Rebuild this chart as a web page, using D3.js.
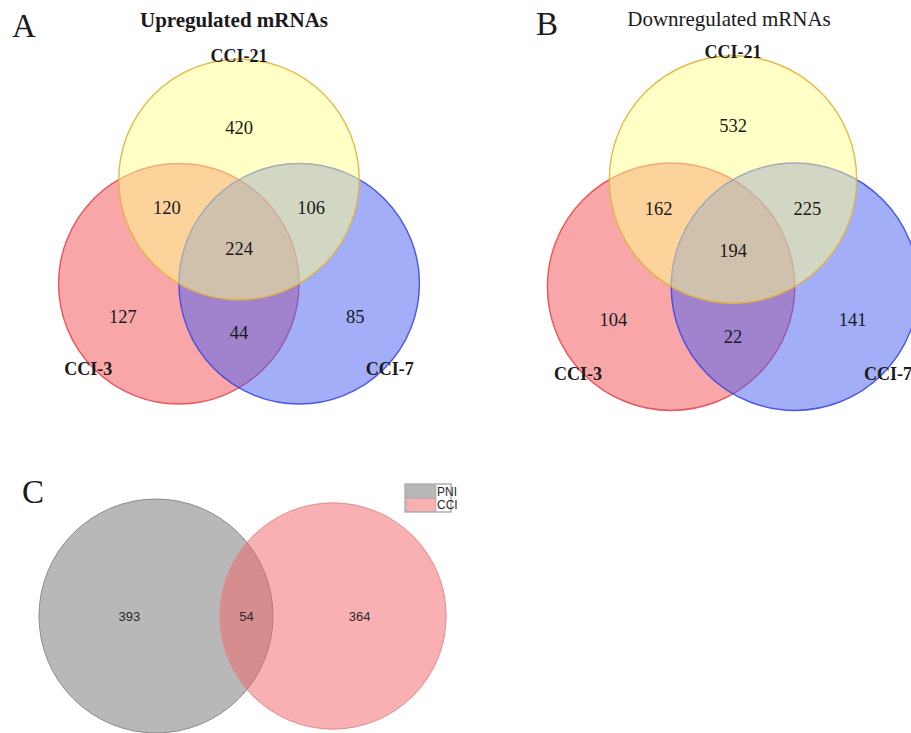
<!DOCTYPE html>
<html>
<head>
<meta charset="utf-8">
<script src="https://cdn.jsdelivr.net/npm/d3@7"></script>
<style>
  body { margin: 0; background: #fff; }
  svg { display: block; }
  .serif { font-family: "Liberation Serif", "Times New Roman", serif; fill: #1a1a1a; }
  .sans { font-family: "Liberation Sans", Arial, sans-serif; fill: #2a2a2a; }
</style>
</head>
<body>
<script>
// Data ----------------------------------------------------------------------------------
var setNames = ["CCI-21", "CCI-3", "CCI-7"];
// region membership (indexes into setNames), same order as the count arrays
var regionSets = [[0], [1], [2], [0, 1], [0, 2], [1, 2], [0, 1, 2]];
var upCounts = [420, 127, 85, 120, 106, 44, 224];
var downCounts = [532, 104, 141, 162, 225, 22, 194];

var pairNames = ["PNI", "CCI"];
var pairOnly = [393, 364];
var pairShared = 54;

// Layout --------------------------------------------------------------------------------
var width = 911, height = 733;
var unitR = 1.73;
var setAngles = [-90, 150, 30];
var setLabelAngles = [-90, 137, 43];
var singleDist = [1.75, 1.93, 1.93];
var pairDist = 1.2;
// draw order red, blue, yellow (yellow lies on top)
var drawOrder = [1, 2, 0];
var setFill = ["#ffff8e", "#f14d51", "#475df1"];
var setStroke = ["#e2b23a", "#e5484c", "#3b48e2"];

var svg = d3.select("body").append("svg")
  .attr("width", width)
  .attr("height", height);

svg.append("rect").attr("width", width).attr("height", height).attr("fill", "#fff");

function rad(a) { return a * Math.PI / 180; }

//Three-set Venn-----------------------------------------------------------------------------
function venn3(g, cx, cy, d, counts) {
  var x = d3.scaleLinear().domain([-1, 1]).range([cx - d, cx + d]);
  var y = d3.scaleLinear().domain([-1, 1]).range([cy - d, cy + d]);
  var r = unitR * d;

  var circles = drawOrder.map(function(i) {
    return { i: i, ux: Math.cos(rad(setAngles[i])), uy: Math.sin(rad(setAngles[i])) };
  });

  g.selectAll("circle.set")
    .data(circles)
    .enter().append("circle")
    .attr("class", "set")
    .attr("cx", function(c) { return x(c.ux); })
    .attr("cy", function(c) { return y(c.uy); })
    .attr("r", r)
    .attr("fill", function(c) { return setFill[c.i]; })
    .attr("fill-opacity", 0.5)
    .attr("stroke", function(c) { return setStroke[c.i]; })
    .attr("stroke-opacity", 0.9)
    .attr("stroke-width", 1.4);

  // region counts
  var regions = regionSets.map(function(s, k) {
    var vx = 0, vy = 0;
    s.forEach(function(i) { vx += Math.cos(rad(setAngles[i])); vy += Math.sin(rad(setAngles[i])); });
    var len = Math.sqrt(vx * vx + vy * vy);
    var dist = s.length == 1 ? singleDist[s[0]] : (s.length == 2 ? pairDist : 0);
    if (len > 0) { vx = vx / len * dist; vy = vy / len * dist; }
    return { ux: vx, uy: vy, n: counts[k] };
  });

  g.selectAll("text.count")
    .data(regions)
    .enter().append("text")
    .attr("class", "count serif")
    .attr("x", function(d) { return x(d.ux); })
    .attr("y", function(d) { return y(d.uy); })
    .attr("dy", "0.35em")
    .attr("text-anchor", "middle")
    .style("font-size", "18.5px")
    .text(function(d) { return d.n; });

  // set names
  g.selectAll("text.setname")
    .data(setNames)
    .enter().append("text")
    .attr("class", "setname serif")
    .attr("x", function(n, i) {
      return x(Math.cos(rad(setAngles[i]))) + r * 1.03 * Math.cos(rad(setLabelAngles[i]));
    })
    .attr("y", function(n, i) {
      return y(Math.sin(rad(setAngles[i]))) + r * 1.03 * Math.sin(rad(setLabelAngles[i]));
    })
    .attr("dy", "0.35em")
    .attr("text-anchor", "middle")
    .style("font-size", "18px")
    .style("font-weight", "bold")
    .text(function(n) { return n; });
}

var gA = svg.append("g");
venn3(gA, 239, 249, 69.5, upCounts);
gA.append("text").attr("class", "serif").attr("x", 234).attr("y", 27)
  .attr("text-anchor", "middle").style("font-size", "21px").style("font-weight", "bold")
  .text("Upregulated mRNAs");
gA.append("text").attr("class", "serif").attr("x", 12).attr("y", 37)
  .style("font-size", "33px").text("A");

var gB = svg.append("g");
venn3(gB, 733, 251, 71.5, downCounts);
gB.append("text").attr("class", "serif").attr("x", 729).attr("y", 26)
  .attr("text-anchor", "middle").style("font-size", "21px")
  .text("Downregulated mRNAs");
gB.append("text").attr("class", "serif").attr("x", 536).attr("y", 35)
  .style("font-size", "33px").text("B");

//Two-set Venn-------------------------------------------------------------------------------
var gC = svg.append("g");
var totals = [pairOnly[0] + pairShared, pairOnly[1] + pairShared];
var rScale = d3.scaleSqrt().domain([0, d3.max(totals)]).range([0, 117]);
var cX = d3.scaleLinear().domain([0, 1]).range([156, 333]);
var cY = 616;
var pairFill = ["#717171", "#f16166"];
var pairStroke = ["#8a8a8a", "#e48a8c"];

var two = totals.map(function(t, i) { return { i: i, r: rScale(t), cx: cX(i) }; });

gC.selectAll("circle")
  .data(two)
  .enter().append("circle")
  .attr("cx", function(c) { return c.cx; })
  .attr("cy", cY)
  .attr("r", function(c) { return c.r; })
  .attr("fill", function(c) { return pairFill[c.i]; })
  .attr("fill-opacity", 0.5)
  .attr("stroke", function(c) { return pairStroke[c.i]; })
  .attr("stroke-width", 1);

var leftEdge0 = two[0].cx - two[0].r, rightEdge0 = two[0].cx + two[0].r;
var leftEdge1 = two[1].cx - two[1].r, rightEdge1 = two[1].cx + two[1].r;
var pairLabels = [
  { x: (leftEdge0 + leftEdge1) / 2, n: pairOnly[0] },
  { x: (leftEdge1 + rightEdge0) / 2, n: pairShared },
  { x: (rightEdge0 + rightEdge1) / 2, n: pairOnly[1] }
];

gC.selectAll("text.count")
  .data(pairLabels)
  .enter().append("text")
  .attr("class", "count sans")
  .attr("x", function(d) { return d.x; })
  .attr("y", cY)
  .attr("dy", "0.35em")
  .attr("text-anchor", "middle")
  .style("font-size", "13px")
  .text(function(d) { return d.n; });

gC.append("text").attr("class", "serif").attr("x", 22).attr("y", 503)
  .style("font-size", "33px").text("C");

// legend
var legend = gC.append("g").attr("transform", "translate(405,484)");
legend.append("rect").attr("width", 46).attr("height", 28)
  .attr("fill", "#fff").attr("stroke", "#888").attr("stroke-width", 1);
legend.selectAll("rect.key")
  .data(pairNames)
  .enter().append("rect")
  .attr("class", "key")
  .attr("x", 1).attr("y", function(n, i) { return 1 + i * 13.5; })
  .attr("width", 30).attr("height", 13)
  .attr("fill", function(n, i) { return i == 0 ? "#b8b8b8" : "#f8b0b2"; })
  .attr("stroke", "#999").attr("stroke-width", 0.5);
legend.selectAll("text")
  .data(pairNames)
  .enter().append("text")
  .attr("class", "sans")
  .attr("x", 32).attr("y", function(n, i) { return 11.5 + i * 13.5; })
  .style("font-size", "12px")
  .text(function(n) { return n; });
</script>
</body>
</html>
